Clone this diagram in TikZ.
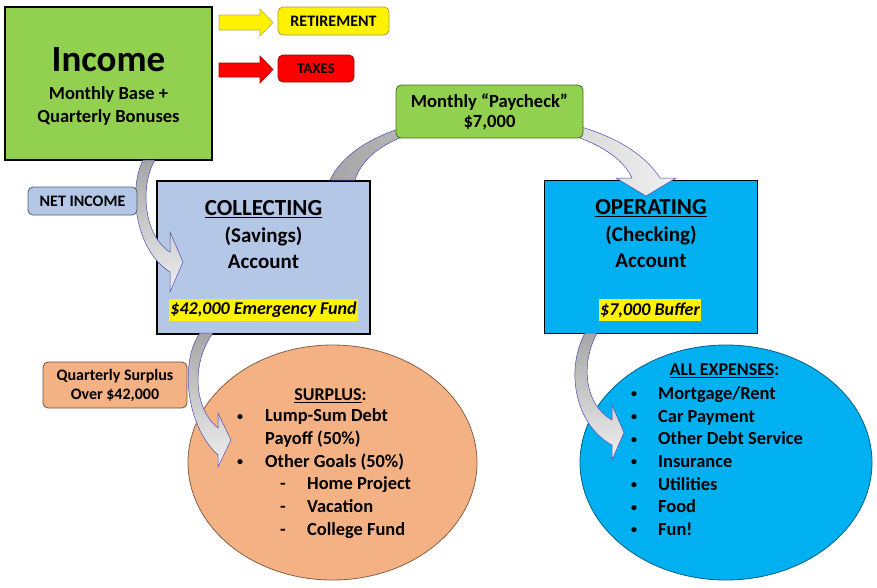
\documentclass[tikz,border=0pt]{standalone}
\usepackage{fontspec}
\setmainfont{Carlito}
\usetikzlibrary{shapes.geometric}

\definecolor{incgreen}{HTML}{92D050}
\definecolor{savblue}{HTML}{B4C7E7}
\definecolor{chkblue}{HTML}{00B0F0}
\definecolor{surpor}{HTML}{F4B183}

\newcommand{\fsz}[2]{\fontsize{#1}{#2}\selectfont}
\newcommand{\bul}[1]{\makebox[#1][l]{\hspace{1.5pt}\raisebox{1.5pt}{\fsz{12}{12}\textbullet}}}
\newcommand{\subitm}{\hspace{44.5pt}\makebox[27pt][l]{-}}

\tikzset{
  acctbox/.style={draw=black, line width=1.2pt, minimum width=213, minimum height=153, inner sep=0},
  tag/.style={draw, rounded corners=5pt, line width=0.8pt, inner sep=0, align=center},
  pot/.style={ellipse, draw, line width=0.8pt, minimum height=235, inner sep=0},
  flowband/.style={draw=gray!60!blue, line width=0.5pt, top color=gray!70, bottom color=gray!12},
  hilite/.style={fill=yellow, inner xsep=1pt, inner ysep=3pt, font=\bfseries\itshape\fsz{18}{20}},
  acctxt/.style={align=center, font=\bfseries\fsz{21}{26.5}},
  listtxt/.style={align=left, anchor=west, inner sep=0, font=\bfseries\fsz{18.4}{22.67}}
}

\begin{document}
\begin{tikzpicture}[x=1pt, y=-1pt, font=\bfseries]
\useasboundingbox (0,0) rectangle (877,587);

% Income
\node[acctbox, fill=incgreen, minimum width=207] (income) at (108.5,83.5) {};
\node[font=\bfseries\fsz{37}{40}] (inctitle) at (108.5,60) {Income};
\node[align=center, font=\bfseries\fsz{18.5}{23}] (incsub) at (108.5,105.5) {Monthly Base +\\Quarterly Bonuses};

% Abzuege
\fill[yellow, draw=yellow!70!black, line width=0.6pt] (219,15) -- (260,15) -- (260,9) -- (273,22.5) -- (260,36) -- (260,30) -- (219,30) -- cycle;
\fill[red, draw=red!70!black, line width=0.6pt] (219,63) -- (260,63) -- (260,56) -- (273,69.5) -- (260,83) -- (260,77) -- (219,77) -- cycle;
\node[tag, fill=yellow, draw=yellow!60!black, minimum width=111, minimum height=28, font=\bfseries\fsz{16}{18}] (retire) at (333.5,21) {RETIREMENT};
\node[tag, fill=red, draw=red!60!black, minimum width=76, minimum height=27, font=\bfseries\fsz{15}{17}] (taxes) at (316,68.5) {TAXES};

% Konten
\node[acctbox, fill=savblue] (collect) at (263.5,257.5) {};
\node[acctxt] (coltxt) at (263.5,235) {{\fsz{23}{26.5}\underline{COLLECTING}}\\(Savings)\\Account};
\node[hilite] (colfund) at (263.5,310) {\$42,000 Emergency Fund};

\node[acctbox, fill=chkblue] (operate) at (651,257) {};
\node[acctxt] (optxt) at (651,234) {{\fsz{23}{26.5}\underline{OPERATING}}\\(Checking)\\Account};
\node[hilite] (opbuf) at (650,310) {\$7,000 Buffer};

% Ellipsen
\node[pot, fill=surpor, draw=surpor!55!black, minimum width=289] (surplus) at (332.5,462.5) {};
\node[font=\bfseries\fsz{18}{20}] (surtitle) at (330.5,396) {\underline{SURPLUS}:};
\node[listtxt] (surlist) at (235.5,473.5) {\bul{29.5pt}Lump-Sum Debt\\\hspace{29.5pt}Payoff (50\%)\\\bul{29.5pt}Other Goals (50\%)\\\subitm Home Project\\\subitm Vacation\\\subitm College Fund};

\node[pot, fill=chkblue, draw=chkblue!55!black, minimum width=292] (expense) at (726,462.5) {};
\node[font=\bfseries\fsz{18}{20}] (exptitle) at (724.5,371) {\underline{ALL EXPENSES}:};
\node[listtxt] (explist) at (629.5,461) {\bul{28.5pt}Mortgage/Rent\\\bul{28.5pt}Car Payment\\\bul{28.5pt}Other Debt Service\\\bul{28.5pt}Insurance\\\bul{28.5pt}Utilities\\\bul{28.5pt}Food\\\bul{28.5pt}Fun!};

% Boegen
\path[flowband] (143,160) -- (155,160) .. controls (140,185) and (143,235) .. (170,252) -- (170,232) -- (183,262) -- (170,292) -- (170,272) .. controls (135,250) and (128,190) .. (143,160) -- cycle;
\path[flowband, left color=gray!70, right color=gray!12] (330,180) .. controls (370,95) and (605,92) .. (660,178) -- (676,178) -- (646,196) -- (616,178) -- (632,178) .. controls (600,108) and (380,100) .. (355,180) -- cycle;
\path[flowband] (200,333) -- (213,333) .. controls (190,365) and (195,410) .. (218,428) -- (218,413) -- (231,440) -- (218,467) -- (218,455) .. controls (185,425) and (180,360) .. (200,333) -- cycle;
\path[flowband] (585,333) -- (597,333) .. controls (580,365) and (585,405) .. (612,420) -- (612,405) -- (624,432.5) -- (612,460) -- (612,445) .. controls (575,425) and (565,370) .. (585,333) -- cycle;

% Etiketten
\node[tag, fill=savblue, draw=savblue!45!black, minimum width=109, minimum height=28, font=\bfseries\fsz{16}{18}] (netinc) at (82.5,201) {NET INCOME};
\node[tag, fill=surpor, draw=surpor!45!black, minimum width=144, minimum height=46, font=\bfseries\fsz{16}{19}] (surtag) at (115,385) {Quarterly Surplus\\Over \$42,000};
\node[tag, fill=incgreen, draw=incgreen!50!black, minimum width=187, minimum height=53, font=\bfseries\fsz{18.6}{20}] (paycheck) at (489.5,111.5) {Monthly “Paycheck”\\\$7,000};
\end{tikzpicture}
\end{document}
